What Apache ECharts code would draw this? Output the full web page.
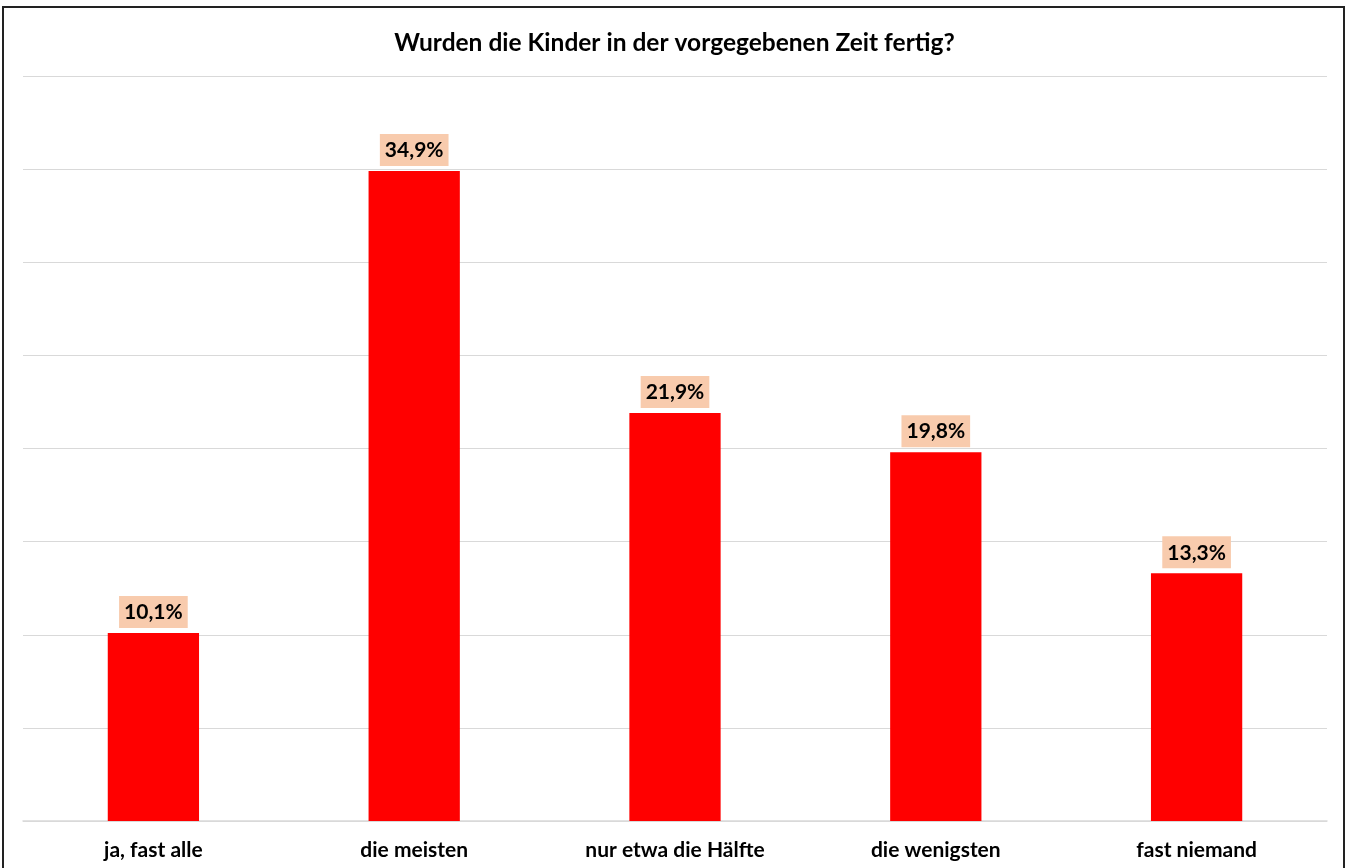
<!DOCTYPE html>
<html>
<head>
<meta charset="utf-8">
<script src="https://cdn.jsdelivr.net/npm/echarts@6/dist/echarts.min.js"></script>
<style>
html,body{margin:0;padding:0;background:#fff;overflow:hidden;}
#frame{position:absolute;left:2px;top:6px;width:1343px;height:900px;border:2px solid #222;box-sizing:border-box;}
#chart{position:absolute;left:0;top:0;width:1349px;height:868px;}
</style>
</head>
<body>
<div id="frame"></div>
<div id="chart"></div>
<script>
const titleText = 'Wurden die Kinder in der vorgegebenen Zeit fertig?';
const categories = ['ja, fast alle', 'die meisten', 'nur etwa die Hälfte', 'die wenigsten', 'fast niemand'];
const values = [10.1, 34.9, 21.9, 19.8, 13.3];

const chart = echarts.init(document.getElementById('chart'));
chart.setOption({
  backgroundColor: 'transparent',
  animation: false,
  title: {
    text: titleText,
    left: 'center',
    top: 26,
    textStyle: {fontFamily: 'Lato', fontWeight: 'bold', fontSize: 24.5, color: '#000'}
  },
  grid: {left: 23, right: 22, top: 76, bottom: 47, containLabel: false},
  xAxis: {
    type: 'category',
    data: categories,
    axisLine: {lineStyle: {color: '#d9d9d9', width: 1.5}},
    axisTick: {show: false},
    axisLabel: {fontFamily: 'Lato', fontWeight: 'bold', fontSize: 21, color: '#000', margin: 19}
  },
  yAxis: {
    type: 'value',
    min: 0, max: 40, interval: 5,
    axisLabel: {show: false},
    axisLine: {show: false},
    axisTick: {show: false},
    splitLine: {lineStyle: {color: '#d9d9d9', width: 1.2}}
  },
  series: [{
    type: 'bar',
    data: values,
    barWidth: '35%',
    itemStyle: {color: '#ff0000'},
    label: {
      show: true,
      position: 'top',
      distance: 5,
      formatter: p => p.value.toFixed(1).replace('.', ',') + '%',
      fontFamily: 'Lato', fontWeight: 'bold', fontSize: 21, color: '#000',
      backgroundColor: '#f8cbad',
      padding: [6, 5, 5, 5]
    }
  }]
});
</script>
</body>
</html>
